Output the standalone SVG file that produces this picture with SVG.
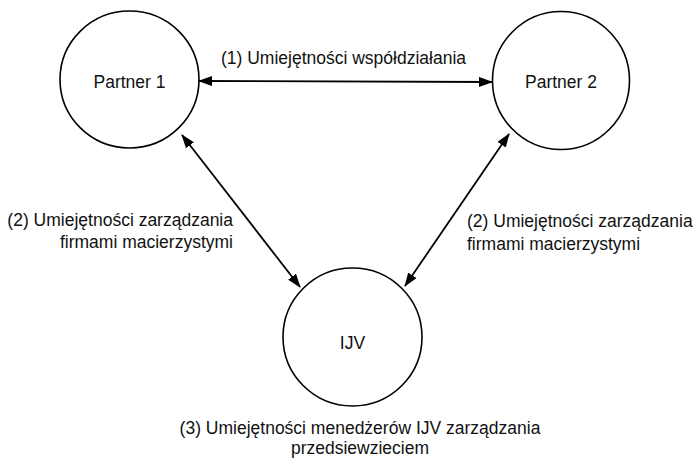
<svg xmlns="http://www.w3.org/2000/svg" width="697" height="464" viewBox="0 0 697 464">
<style>
.node{fill:none;stroke:#000;stroke-width:1.6}
.lbl{font-family:"Liberation Sans",Arial,Helvetica,sans-serif;font-size:17.5px;fill:#111}
.conn{stroke:#000;stroke-width:1.8;fill:none;marker-start:url(#ah);marker-end:url(#ah)}
</style>
<defs>
<marker id="ah" markerUnits="userSpaceOnUse" markerWidth="14" markerHeight="12" refX="13" refY="5" orient="auto-start-reverse">
<path d="M0,0 L14,5 L0,10 z" fill="#000"/>
</marker>
</defs>
<rect width="697" height="464" fill="#fff"/>
<g id="partner1">
<ellipse class="node" cx="129.5" cy="79.5" rx="69.5" ry="68.5"/>
<text class="lbl" x="129.5" y="88" text-anchor="middle">Partner 1</text>
</g>
<g id="partner2">
<ellipse class="node" cx="561" cy="80.5" rx="68.5" ry="69"/>
<text class="lbl" x="561" y="88" text-anchor="middle">Partner 2</text>
</g>
<g id="ijv">
<ellipse class="node" cx="352.5" cy="337" rx="69.5" ry="69"/>
<text class="lbl" x="352.5" y="349" text-anchor="middle">IJV</text>
</g>
<g id="connectors">
<line class="conn" x1="199" y1="81" x2="492" y2="82"/>
<line class="conn" x1="182" y1="135" x2="300" y2="287"/>
<line class="conn" x1="509" y1="134" x2="405" y2="286"/>
</g>
<g id="labels">
<text class="lbl" x="343.5" y="64" text-anchor="middle">(1) Umiejętności współdziałania</text>
<text class="lbl" x="233" y="226" text-anchor="end">(2) Umiejętności zarządzania</text>
<text class="lbl" x="233" y="248" text-anchor="end">firmami macierzystymi</text>
<text class="lbl" x="467" y="227">(2) Umiejętności zarządzania</text>
<text class="lbl" x="467" y="250">firmami macierzystymi</text>
<text class="lbl" x="360" y="434" text-anchor="middle">(3) Umiejętności menedżerów IJV zarządzania</text>
<text class="lbl" x="360" y="454" text-anchor="middle">przedsiewzieciem</text>
</g>
</svg>
